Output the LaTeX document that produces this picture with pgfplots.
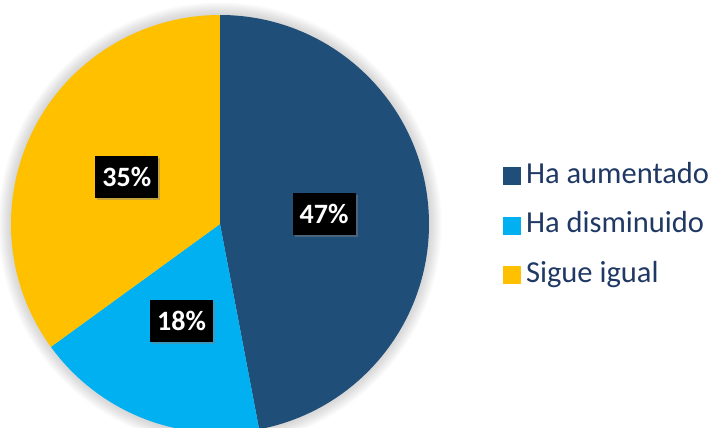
\documentclass[border=0pt]{standalone}
\usepackage{pgfplots}
\pgfplotsset{compat=1.18}
\usepackage{pgfplotstable}
\usepackage{fontspec}
\setmainfont{Carlito}
\usetikzlibrary{shadows}
\definecolor{cA}{HTML}{1F4E79}
\definecolor{cB}{HTML}{00B0F0}
\definecolor{cC}{HTML}{FFC000}
\definecolor{legtext}{HTML}{1F3864}

\pgfplotstableread{
label value
Aumentado 47
Disminuido 18
Igual 35
}\piedata

\begin{document}
\begin{tikzpicture}[box/.style={fill=black, text=white, font=\bfseries\fontsize{28bp}{28bp}\selectfont,
    minimum width=63bp, minimum height=42bp, inner sep=0pt,
    drop shadow={shadow xshift=2bp, shadow yshift=-2bp, opacity=0.45}}]
\pgfplotstablegetelem{0}{value}\of\piedata \let\vA\pgfplotsretval
\pgfplotstablegetelem{1}{value}\of\piedata \let\vB\pgfplotsretval
\pgfplotstablegetelem{2}{value}\of\piedata \let\vC\pgfplotsretval
\pgfmathsetmacro{\sA}{90}
\pgfmathsetmacro{\eA}{\sA-3.6*\vA}
\pgfmathsetmacro{\eB}{\eA-3.6*\vB}
\pgfmathsetmacro{\eC}{\eB-3.6*\vC}
\pgfmathsetmacro{\mA}{(\sA+\eA)/2}
\pgfmathsetmacro{\mB}{(\eA+\eB)/2}
\pgfmathsetmacro{\mC}{(\eB+\eC)/2}
\useasboundingbox (0,0) rectangle (710bp,428bp);
\begin{axis}[
  at={(0,0)}, anchor=south west,
  width=710bp, height=428bp, scale only axis,
  xmin=0, xmax=710, ymin=0, ymax=428,
  hide axis, clip=false,
  legend style={at={(axis cs:503,265.5)}, anchor=north west, draw=none, fill=none,
    inner sep=0pt, font=\fontsize{30.5bp}{31bp}\selectfont, text=legtext,
    row sep=23bp, nodes={inner sep=0pt, text height=20.5bp, text depth=6bp},
    /tikz/every odd column/.append style={column sep=5.5bp}},
  legend cell align=left,
  legend image code/.code={\fill[#1] (0bp,-8.5bp) rectangle (17bp,8.5bp);},
]
\pgfplotsinvokeforeach{209.5,211,212.5,214,215.5,217,218.5,220,221.5}{
  \fill[black, opacity=0.02] (axis cs:220,204) circle[radius=#1bp];
}
\fill[cA] (axis cs:220,204) -- ++(\sA:209bp) arc[start angle=\sA, end angle=\eA, radius=209bp] -- cycle;
\fill[cB] (axis cs:220,204) -- ++(\eA:209bp) arc[start angle=\eA, end angle=\eB, radius=209bp] -- cycle;
\fill[cC] (axis cs:220,204) -- ++(\eB:209bp) arc[start angle=\eB, end angle=\eC, radius=209bp] -- cycle;
\path (axis cs:220,204) ++(\mA:104.5bp) node[box] {\vA\%};
\path (axis cs:220,204) ++(\mB:104.5bp) node[box] {\vB\%};
\path (axis cs:220,204) ++(\mC:104.5bp) node[box] {\vC\%};
\addlegendimage{cA}
\addlegendentry{Ha aumentado}
\addlegendimage{cB}
\addlegendentry{Ha disminuido}
\addlegendimage{cC}
\addlegendentry{Sigue igual}
\end{axis}
\end{tikzpicture}
\end{document}
